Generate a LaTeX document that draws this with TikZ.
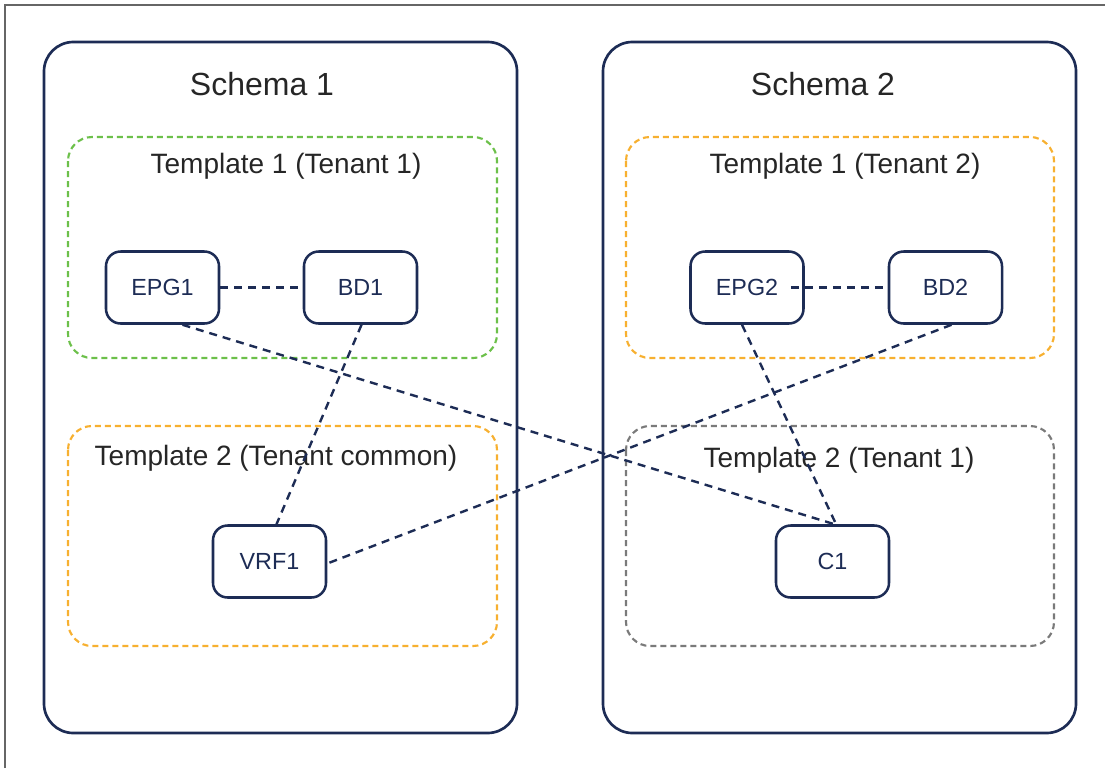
\documentclass[tikz,border=0pt]{standalone}
\usepackage{fontspec}
\setmainfont{Liberation Sans}
\usetikzlibrary{calc}
\definecolor{navy}{HTML}{1D2C55}
\definecolor{tgreen}{HTML}{6CC04A}
\definecolor{torange}{HTML}{F7B030}
\definecolor{tgray}{HTML}{7A7A7A}
\definecolor{txt}{HTML}{262626}
\tikzset{
  schemabox/.style={draw=navy, line width=2pt, rounded corners=22pt},
  tmplbox/.style={line width=1.6pt, dash pattern=on 4.5pt off 3pt, rounded corners=18pt},
  objbox/.style={draw=navy, line width=1.9pt, rounded corners=11pt, minimum width=84.75pt, minimum height=54pt, text=navy, font=\fontsize{17.5}{20}\selectfont, inner sep=0pt},
  schemalabel/.style={text=txt, font=\fontsize{24}{28}\selectfont},
  tmpllabel/.style={text=txt, font=\fontsize{21}{25}\selectfont},
  link/.style={draw=navy, line width=1.8pt, dash pattern=on 6pt off 4.5pt},
}
\begin{document}
\begin{tikzpicture}[x=0.75pt,y=-0.75pt]
\useasboundingbox (0,0) rectangle (1105,768);
% outer frame (top and left edges visible)
\draw[draw=gray!80!black, line width=1.5pt] (5,768) -- (5,5) -- (1105,5);
% schemas
\draw[schemabox] (44,42) rectangle (517,733);
\draw[schemabox] (603,42) rectangle (1076,733);
\node[schemalabel] (s1) at (262,84) {Schema 1};
\node[schemalabel] (s2) at (823,84) {Schema 2};
% templates
\draw[tmplbox, draw=tgreen] (68,137) rectangle (497,358);
\draw[tmplbox, draw=torange] (68,426) rectangle (497,646);
\draw[tmplbox, draw=torange] (626,137) rectangle (1054,358);
\draw[tmplbox, draw=tgray] (626,426) rectangle (1054,646);
\node[tmpllabel] (t11) at (286,166) {Template 1 (Tenant 1)};
\node[tmpllabel] (t12) at (276,458) {Template 2 (Tenant common)};
\node[tmpllabel] (t21) at (845,166) {Template 1 (Tenant 2)};
\node[tmpllabel] (t22) at (839,460) {Template 2 (Tenant 1)};
% objects
\node[objbox] (EPG1) at (162.5,287.5) {EPG1};
\node[objbox] (BD1) at (360.5,287.5) {BD1};
\node[objbox] (VRF1) at (269.5,561.5) {VRF1};
\node[objbox] (EPG2) at (747,287.5) {EPG2};
\node[objbox] (BD2) at (945.5,287.5) {BD2};
\node[objbox] (C1) at (832.5,561.5) {C1};
% links
\draw[link] (EPG1.east) -- (BD1.west);
\draw[link] ($(EPG2.east)+(-14,0)$) -- (BD2.west);
\draw[link] ($(EPG1.south)+(20,0)$) -- ($(C1.north)+(2,0)$);
\draw[link] ($(EPG2.south)+(-5,0)$) -- ($(C1.north)+(5,3)$);
\draw[link] ($(BD1.south)+(1,0)$) -- ($(VRF1.north)+(7,0)$);
\draw[link] ($(BD2.south)+(6,0)$) -- ($(VRF1.east)+(0,2)$);
\end{tikzpicture}
\end{document}
